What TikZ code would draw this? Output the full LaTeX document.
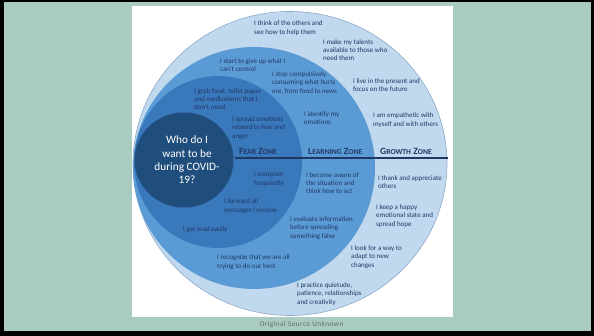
\documentclass[tikz,border=0pt]{standalone}
\usepackage{fontspec}
\setmainfont{Carlito}
\definecolor{bgteal}{HTML}{A9CBC1}
\definecolor{growth}{HTML}{C0D9EF}
\definecolor{growthline}{HTML}{8EA9C8}
\definecolor{learning}{HTML}{5B9BD5}
\definecolor{fear}{HTML}{3A78BC}
\definecolor{innerc}{HTML}{1F4E7C}
\definecolor{navy}{HTML}{1F3864}
\definecolor{srcgrey}{HTML}{5F6E6A}
\newcommand{\zonelabel}[2]{{\fontsize{9.6}{10}\selectfont #1}{\fontsize{7.6}{10}\selectfont #2}}
\begin{document}
\begin{tikzpicture}[x=1pt,y=-1pt,
  lbl/.style={anchor=west,inner sep=0pt,align=left,text=navy,font=\fontsize{7}{8.4}\selectfont},
  zone/.style={anchor=west,inner sep=0pt,text=navy,font=\bfseries}]
\useasboundingbox (0,0) rectangle (594,336);
\fill[black] (0,0) rectangle (594,336);
\fill[bgteal] (4,2) rectangle (591,331);
\fill[white] (132,6) rectangle (453,317);
% circles
\filldraw[fill=growth,draw=growthline,line width=0.6pt] (290,163.5) ellipse [x radius=157,y radius=152];
\fill[learning] (254,168) circle [radius=121];
\fill[fear] (218,162) ellipse [x radius=84,y radius=86];
\fill[innerc] (184,160) ellipse [x radius=49.5,y radius=47.5];
\draw[navy,line width=2pt] (235,158.5) -- (448,158.5);
% centre text
\node[inner sep=0pt,align=center,text=white,font=\fontsize{11.3}{13.3}\selectfont] (who) at (187,160) {Who do I\\want to be\\during COVID-\\19?};
% zone labels
\node[zone] (fz) at (239,151) {\zonelabel{F}{EAR} \zonelabel{Z}{ONE}};
\node[zone] (lz) at (308,151) {\zonelabel{L}{EARNING} \zonelabel{Z}{ONE}};
\node[zone] (gz) at (380,151) {\zonelabel{G}{ROWTH} \zonelabel{Z}{ONE}};
% statements
\node[lbl] (t1) at (254,28) {I think of the others and\\see how to help them};
\node[lbl] (t2) at (323,50) {I make my talents\\available to those who\\need them};
\node[lbl] (t3) at (220,65) {I start to give up what I\\can't control};
\node[lbl] (t4) at (272,83) {I stop compulsively\\consuming what hurts\\me, from food to news};
\node[lbl] (t5) at (353,85) {I live in the present and\\focus on the future};
\node[lbl] (t6) at (194,99) {I grab food, toilet paper\\and medications that I\\don't need};
\node[lbl] (t7) at (304,118) {I identify my\\emotions};
\node[lbl] (t8) at (373,120) {I am empathetic with\\myself and with others};
\node[lbl] (t9) at (232,128) {I spread emotions\\related to fear and\\anger};
\node[lbl] (t10) at (254,179) {I complain\\frequently};
\node[lbl] (t11) at (306,183) {I become aware of\\the situation and\\think how to act};
\node[lbl] (t12) at (378,182) {I thank and appreciate\\others};
\node[lbl] (t13) at (224,206) {I forward all\\messages I receive};
\node[lbl] (t14) at (376,216) {I keep a happy\\emotional state and\\spread hope};
\node[lbl] (t15) at (290,228) {I evaluate information\\before spreading\\something false};
\node[lbl] (t16) at (183,230) {I get mad easily};
\node[lbl] (t17) at (351,257) {I look for a way to\\adapt to new\\changes};
\node[lbl] (t18) at (217,262) {I recognize that we are all\\trying to do our best};
\node[lbl] (t19) at (297,294) {I practice quietude,\\patience, relationships\\and creativity};
% source
\node[inner sep=0pt,text=srcgrey,font=\fontsize{7.3}{8}\selectfont\addfontfeature{LetterSpace=6}] (src) at (301.5,325) {Original Source Unknown};
\end{tikzpicture}
\end{document}
